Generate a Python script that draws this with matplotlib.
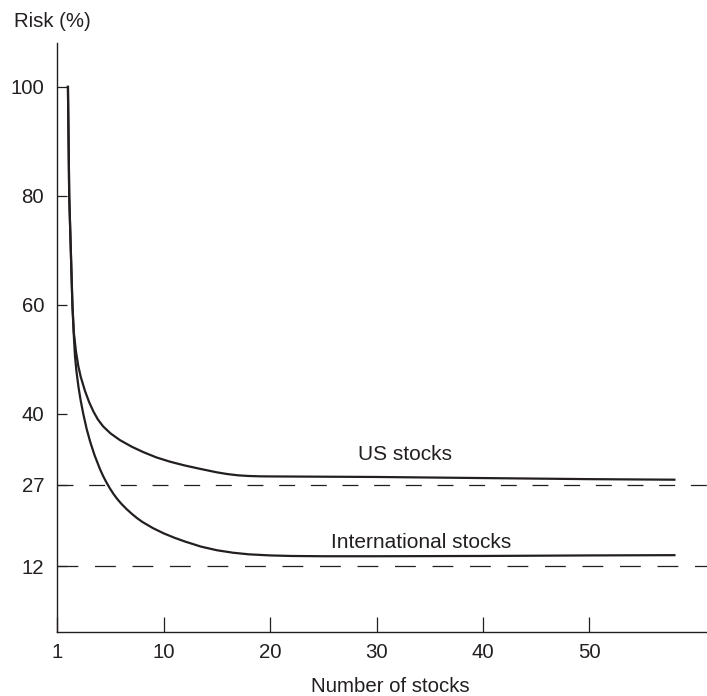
import matplotlib
matplotlib.use("Agg")
import matplotlib.pyplot as plt

plt.rcParams["font.family"] = ["Liberation Sans", "DejaVu Sans"]
plt.rcParams["lines.scale_dashes"] = False

INK = "#231f20"

# Portfolio risk (% of single-stock risk) versus number of stocks held
us_n = [1, 1.12, 1.42, 1.55, 1.75, 1.97, 2.2, 2.6, 3.0, 3.4, 3.8, 4.3, 5, 5.9,
        7, 8.1, 9.3, 10.6, 12, 13.4, 15, 16, 17, 18, 19, 20, 25, 30, 40, 50, 58]
us_risk = [100, 80, 60, 55, 51.5, 48.8, 46.8, 44.2, 42.1, 40.4, 39.0, 37.7, 36.4,
           35.15, 33.95, 32.95, 32.0, 31.2, 30.5, 29.9, 29.25, 28.93, 28.7, 28.58,
           28.52, 28.5, 28.45, 28.4, 28.2, 28.0, 27.9]

intl_n = [1, 1.12, 1.42, 1.55, 1.66, 1.8, 2.0, 2.2, 2.45, 2.76, 3.1, 3.5, 4.0,
          4.3, 4.6, 4.95, 5.3, 5.65, 6.0, 6.5, 7, 7.5, 8, 9, 10, 11, 12, 13.5,
          15, 16.5, 18, 20, 22, 25, 30, 40, 50, 58]
intl_risk = [100, 80, 60, 54.5, 50.6, 47.8, 44.8, 42.4, 39.9, 37.2, 34.8, 32.4,
             29.9, 28.6, 27.47, 26.28, 25.23, 24.32, 23.52, 22.52, 21.64, 20.84,
             20.14, 19.0, 18.05, 17.25, 16.55, 15.62, 14.95, 14.5, 14.2, 14.0,
             13.9, 13.85, 13.85, 13.9, 14.0, 14.05]

# Market-risk floors
us_floor = 27
intl_floor = 12

y_ticks = [100, 80, 60, 40, 27, 12]
x_tick_labels = ["1", "10", "20", "30", "40", "50"]

fig = plt.figure(figsize=(7.07, 6.96), dpi=100)
ax = fig.add_axes([57.3 / 707, (696 - 631.7) / 696, 1 - 57.3 / 707, (631.7 - 43.3) / 696])

ax.plot(us_n, us_risk, color=INK, lw=1.6, solid_joinstyle="round")
ax.plot(intl_n, intl_risk, color=INK, lw=1.6, solid_joinstyle="round")

ax.axhline(us_floor, color=INK, lw=0.9, dashes=(11.5, 11.3))
ax.axhline(intl_floor, color=INK, lw=0.9, dashes=(15, 12))

ax.text(32.7, 31.45, "US stocks", ha="center", va="baseline", fontsize=15, color=INK)
ax.text(34.2, 15.3, "International stocks", ha="center", va="baseline", fontsize=15, color=INK)

ax.set_xlim(0, 649.7 / 10.64)
ax.set_ylim(0, 108)

ax.set_yticks(y_ticks)
ax.set_yticklabels([str(v) for v in y_ticks])
ax.set_xticks(range(0, 60, 10))
ax.set_xticklabels(x_tick_labels)

ax.tick_params(axis="y", direction="in", length=7.2, width=0.9, pad=9.5,
               labelsize=14.7, colors=INK)
ax.tick_params(axis="x", direction="in", length=10.8, width=0.9, pad=8.4,
               labelsize=14.7, colors=INK)

for side in ("top", "right"):
    ax.spines[side].set_visible(False)
for side in ("left", "bottom"):
    ax.spines[side].set_linewidth(1.0)
    ax.spines[side].set_color(INK)

fig.text(14 / 707, 1 - 26.7 / 696, "Risk (%)", ha="left", va="baseline",
         fontsize=14.7, color=INK)
fig.text(390 / 707, 1 - 691.7 / 696, "Number of stocks", ha="center", va="baseline",
         fontsize=14.7, color=INK)

fig.savefig("out.png", dpi=100)
